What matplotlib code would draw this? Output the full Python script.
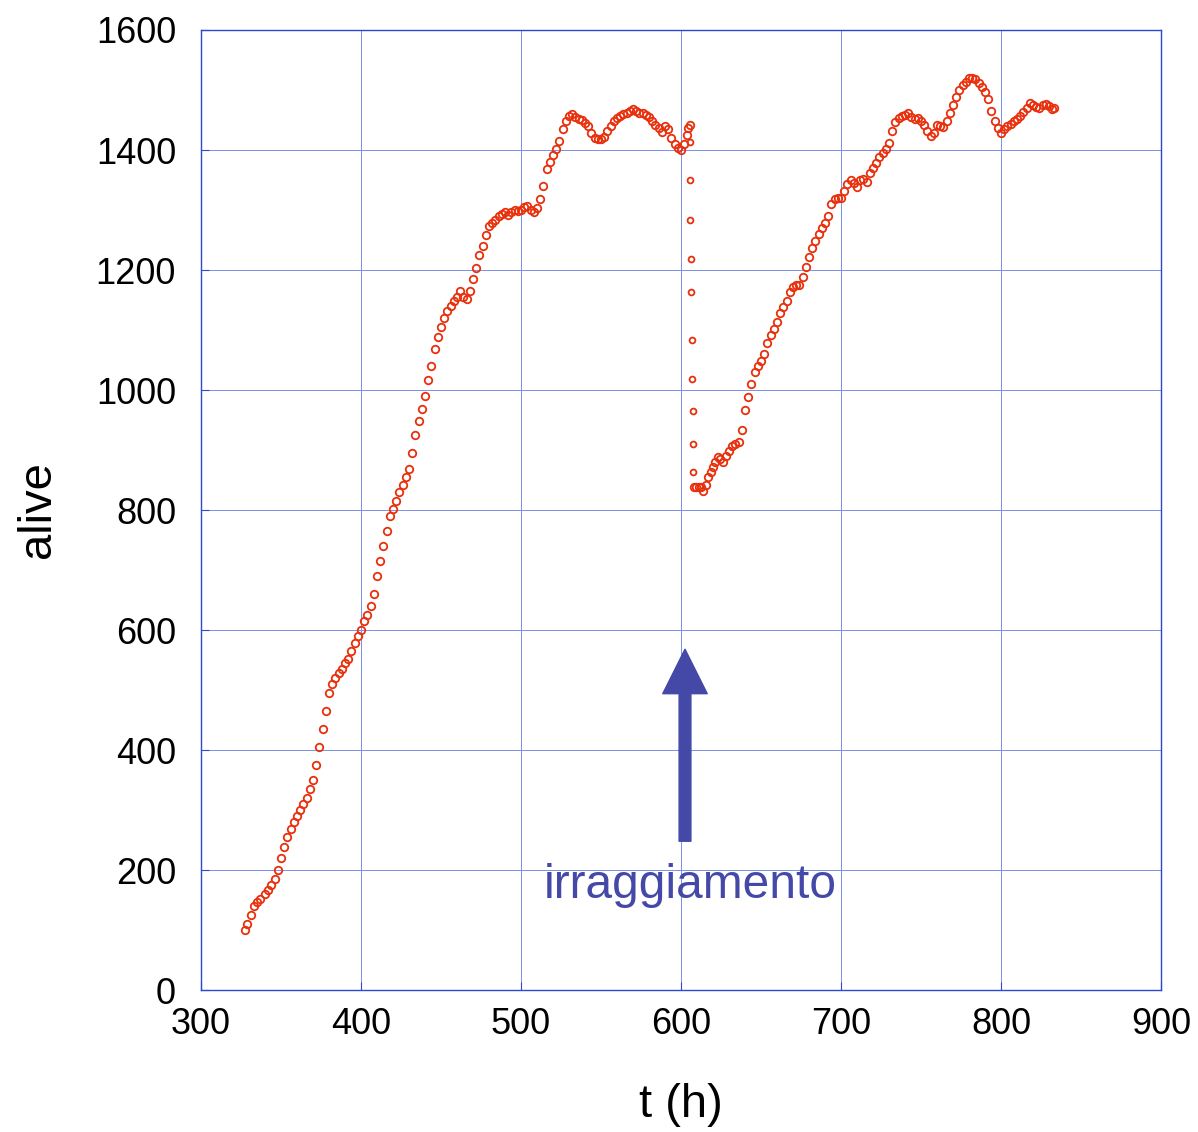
import matplotlib
matplotlib.use("Agg")
import matplotlib.pyplot as plt
from matplotlib.patches import FancyArrowPatch, ArrowStyle

plt.rcParams['font.family'] = ['Liberation Sans', 'DejaVu Sans']

# first growth phase (h, alive cells)
t1 = [327.5, 329, 331, 333, 335, 337, 340, 342, 344, 346, 348, 350, 352, 354, 356, 358,
      360, 362, 364, 366, 368, 370, 372, 374, 376, 378, 380, 382, 384, 386, 388, 390,
      392, 394, 396, 398, 400, 402, 404, 406, 408, 410, 412, 414, 416, 418, 420, 422,
      424, 426, 428, 430, 432, 434, 436, 438, 440, 442, 444, 446, 448, 450, 452, 454,
      456, 458, 460, 462, 464, 466, 468, 470, 472, 474, 476, 478, 480, 482, 484, 486,
      488, 490, 492, 494, 496, 498, 500, 502, 504, 506, 508, 510, 512, 514, 516, 518,
      520, 522, 524, 526, 528, 530, 532, 534, 536, 538, 540, 542, 544, 546, 548, 550,
      552, 554, 556, 558, 560, 562, 564, 566, 568, 570, 572, 574, 576, 578, 580, 582,
      584, 586, 588, 590, 592, 594, 596, 598, 600, 602, 603.5, 604.5, 605.5]
v1 = [100, 110, 125, 140, 147, 152, 160, 167, 175, 185, 200, 220, 238, 255, 268, 280,
      290, 300, 310, 320, 335, 350, 375, 405, 435, 465, 495, 510, 520, 528, 535, 545,
      552, 565, 578, 590, 600, 615, 625, 640, 660, 690, 715, 740, 765, 790, 802, 815,
      830, 842, 855, 868, 895, 925, 948, 968, 990, 1017, 1040, 1068, 1088, 1105, 1120, 1132,
      1140, 1148, 1155, 1165, 1155, 1152, 1165, 1185, 1203, 1225, 1240, 1258, 1273, 1278, 1283, 1290,
      1293, 1296, 1292, 1297, 1300, 1298, 1300, 1305, 1306, 1300, 1297, 1303, 1318, 1340, 1368, 1380,
      1392, 1402, 1415, 1435, 1448, 1456, 1460, 1455, 1452, 1450, 1445, 1440, 1428, 1420, 1418, 1419,
      1422, 1432, 1440, 1448, 1453, 1456, 1460, 1462, 1465, 1468, 1465, 1462, 1461, 1458, 1455, 1448,
      1442, 1436, 1430, 1440, 1435, 1420, 1410, 1403, 1400, 1410, 1425, 1436, 1442]

# drop after irradiation
t_drop = [605.6, 605.7, 605.9, 606.2, 606.4, 606.8, 607.0, 607.2, 607.5, 607.8]
v_drop = [1414, 1350, 1283, 1218, 1163, 1084, 1019, 965, 910, 863]

# recovery phase
t2 = [608.2, 609.5, 611, 612.5, 614, 615.5, 617, 618.5, 620, 621.5, 623, 624.5, 626, 628, 630, 632,
      634, 636, 638, 640, 642, 644, 646, 648, 650, 652, 654, 656, 658, 660, 662, 664,
      666, 668, 670, 672, 674, 676, 678, 680, 682, 684, 686, 688, 690, 692, 694, 696,
      698, 700, 702, 704, 706, 708, 710, 712, 714, 716, 718, 720, 722, 724, 726, 728,
      730, 732, 734, 736, 738, 740, 742, 744, 746, 748, 750, 752, 754, 756, 758, 760,
      762, 764, 766, 768, 770, 772, 774, 776, 778, 780, 782, 784, 786, 788, 790, 792,
      794, 796, 798, 800, 802, 804, 806, 808, 810, 812, 814, 816, 818, 820, 822, 824,
      826, 828, 830, 832, 833]
v2 = [838, 839, 838, 838, 831, 842, 855, 864, 872, 880, 889, 885, 880, 890, 898, 906,
      910, 914, 933, 967, 989, 1010, 1030, 1040, 1048, 1060, 1078, 1092, 1102, 1114, 1128, 1138,
      1148, 1164, 1172, 1175, 1175, 1188, 1205, 1222, 1236, 1248, 1260, 1270, 1278, 1290, 1310, 1318,
      1320, 1320, 1332, 1343, 1350, 1345, 1338, 1350, 1352, 1347, 1362, 1370, 1378, 1388, 1395, 1402,
      1412, 1432, 1447, 1454, 1456, 1458, 1462, 1455, 1451, 1453, 1448, 1442, 1432, 1424, 1428, 1442,
      1440, 1439, 1448, 1461, 1475, 1488, 1500, 1508, 1514, 1520, 1520, 1518, 1512, 1505, 1497, 1485,
      1465, 1448, 1436, 1428, 1435, 1440, 1444, 1448, 1452, 1457, 1463, 1470, 1478, 1475, 1472, 1470,
      1475, 1476, 1474, 1468, 1470]

xticks = [300, 400, 500, 600, 700, 800, 900]
yticks = [0, 200, 400, 600, 800, 1000, 1200, 1400, 1600]

red = '#e8300c'
blue = '#2a48d0'
arrow_col = '#4449a8'

fig = plt.figure(figsize=(11.98, 11.32), dpi=100)
ax = fig.add_axes([0.1678, 0.1254, 0.8013, 0.8481])

# growth phase and recovery drawn as thicker chains, the drop as lone circles
for t, v, ms in [(t1, v1, 5.4), (t_drop, v_drop, 4.2), (t2, v2, 5.4)]:
    ax.plot(t, v, linestyle='none', marker='o', markersize=ms,
            markerfacecolor='none', markeredgecolor=red, markeredgewidth=1.3)

ax.set_xlim(300, 900)
ax.set_ylim(0, 1600)
ax.set_xticks(xticks)
ax.set_yticks(yticks)
ax.grid(True, color='#7a8fe8', linewidth=0.7)
ax.set_axisbelow(True)
for s in ax.spines.values():
    s.set_color(blue)
    s.set_linewidth(1.0)
ax.tick_params(direction='in', length=6, color=blue, labelsize=26)
ax.tick_params(axis='x', pad=12)
ax.tick_params(axis='y', pad=18)

ax.set_xlabel('t (h)', fontsize=34, labelpad=30)
ax.set_ylabel('alive', fontsize=34, labelpad=26)

# irradiation marker
style = ArrowStyle.Simple(head_length=3.2, head_width=3.2, tail_width=0.85)
arr = FancyArrowPatch((602.5, 248), (602.5, 568), arrowstyle=style, mutation_scale=10,
                      color=arrow_col, shrinkA=0, shrinkB=0, zorder=5)
ax.add_patch(arr)
ax.text(606, 174, 'irraggiamento', fontsize=34.5, color=arrow_col, ha='center', va='center')

fig.savefig('out.png', dpi=100)
